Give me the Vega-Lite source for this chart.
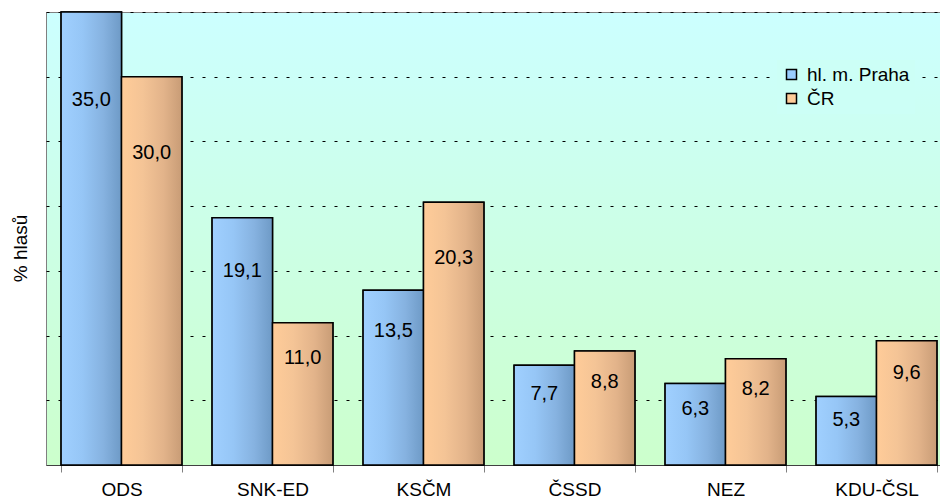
{
  "$schema": "https://vega.github.io/schema/vega-lite/v6.json",
  "width": 906,
  "height": 453,
  "autosize": "none",
  "padding": {"left": 46, "top": 12, "right": 0, "bottom": 34},
  "config": {
    "font": "Liberation Sans",
    "locale": {"number": {"decimal": ",", "thousands": " ", "grouping": [3], "currency": ["", " Kč"]}},
    "view": {
      "stroke": "#808080",
      "strokeWidth": 1,
      "fill": {"gradient": "linear", "x1": 0, "y1": 0, "x2": 0, "y2": 1,
        "stops": [{"offset": 0, "color": "#ccffff"}, {"offset": 1, "color": "#ccffcc"}]}
    }
  },
  "datasets": {
    "votes": [
      {"party": "ODS", "series": "hl. m. Praha", "value": 35.0},
      {"party": "ODS", "series": "ČR", "value": 30.0},
      {"party": "SNK-ED", "series": "hl. m. Praha", "value": 19.1},
      {"party": "SNK-ED", "series": "ČR", "value": 11.0},
      {"party": "KSČM", "series": "hl. m. Praha", "value": 13.5},
      {"party": "KSČM", "series": "ČR", "value": 20.3},
      {"party": "ČSSD", "series": "hl. m. Praha", "value": 7.7},
      {"party": "ČSSD", "series": "ČR", "value": 8.8},
      {"party": "NEZ", "series": "hl. m. Praha", "value": 6.3},
      {"party": "NEZ", "series": "ČR", "value": 8.2},
      {"party": "KDU-ČSL", "series": "hl. m. Praha", "value": 5.3},
      {"party": "KDU-ČSL", "series": "ČR", "value": 9.6}
    ]
  },
  "data": {"name": "votes"},
  "encoding": {
    "x": {
      "field": "party", "type": "nominal", "sort": null,
      "scale": {"paddingInner": 0.2, "paddingOuter": 0.1},
      "axis": {
        "title": null, "labelAngle": 0, "labelFontSize": 19, "labelColor": "black",
        "tickBand": "extent", "tickSize": 7, "tickColor": "#808080",
        "domainColor": "#404040", "labelPadding": 8, "grid": false
      }
    },
    "xOffset": {
      "field": "series", "type": "nominal", "sort": ["hl. m. Praha", "ČR"],
      "scale": {"domain": ["hl. m. Praha", "ČR"], "paddingInner": 0, "paddingOuter": 0}
    }
  },
  "layer": [
    {
      "layer": [
        {
          "mark": {"type": "bar", "stroke": "black", "strokeWidth": 1.5},
          "encoding": {
            "y": {
              "field": "value", "type": "quantitative",
              "scale": {"domain": [0, 35], "nice": false},
              "axis": {
                "title": "% hlasů", "labels": false, "ticks": false, "domain": false,
                "grid": true, "gridColor": "black", "gridDash": [3, 9], "gridWidth": 1.2,
                "values": [5, 10, 15, 20, 25, 30, 35],
                "titleFontSize": 19, "titleFontWeight": "normal", "titleColor": "black",
                "titlePadding": 16, "titleY": 236
              }
            },
            "color": {
              "field": "series", "type": "nominal",
              "scale": {"domain": ["hl. m. Praha", "ČR"], "range": ["#99ccff", "#ffcc99"]},
              "legend": {
                "title": null, "orient": "none", "legendX": 731, "legendY": 48,
                "fillColor": "#ccfff6", "padding": 5,
                "symbolType": "square", "symbolSize": 100,
                "symbolStrokeColor": "black", "symbolStrokeWidth": 1.5,
                "labelFontSize": 19, "labelColor": "black", "labelOffset": 6,
                "rowPadding": 4
              }
            }
          }
        },
        {
          "transform": [{"filter": "datum.series === 'hl. m. Praha'"}],
          "mark": {
            "type": "bar", "stroke": "black", "strokeWidth": 1.5,
            "color": {"gradient": "linear", "x1": 0, "y1": 0, "x2": 1, "y2": 0,
              "stops": [
                {"offset": 0, "color": "#a0d0ff"},
                {"offset": 0.35, "color": "#96c6f6"},
                {"offset": 0.7, "color": "#86b2e0"},
                {"offset": 1, "color": "#6e9ac6"}
              ]}
          },
          "encoding": {"y": {"field": "value", "type": "quantitative"}}
        },
        {
          "transform": [{"filter": "datum.series === 'ČR'"}],
          "mark": {
            "type": "bar", "stroke": "black", "strokeWidth": 1.5,
            "color": {"gradient": "linear", "x1": 0, "y1": 0, "x2": 1, "y2": 0,
              "stops": [
                {"offset": 0, "color": "#ffcc99"},
                {"offset": 0.35, "color": "#f4c496"},
                {"offset": 0.7, "color": "#e2b38a"},
                {"offset": 1, "color": "#c89c76"}
              ]}
          },
          "encoding": {"y": {"field": "value", "type": "quantitative"}}
        }
      ]
    },
    {
      "mark": {"type": "text", "fontSize": 20, "color": "black", "baseline": "middle", "dy": 12},
      "encoding": {
        "y": {"field": "value", "type": "quantitative", "scale": {"domain": [0, 42], "nice": false}, "axis": null},
        "text": {"field": "value", "type": "quantitative", "format": ".1f"}
      }
    }
  ],
  "resolve": {"scale": {"y": "independent"}}
}
